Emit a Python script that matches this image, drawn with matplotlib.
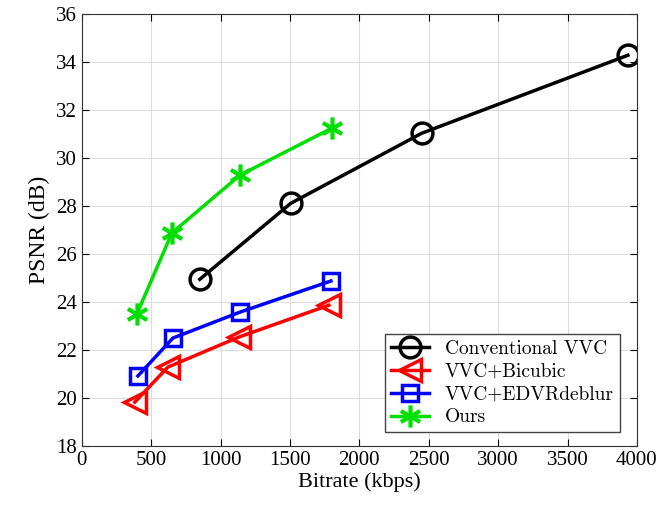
import matplotlib.pyplot as plt
from matplotlib.path import Path
import numpy as np

# bitrate (kbps) and PSNR (dB)
conv_x = [850, 1506, 2450, 3935]
conv_y = [24.95, 28.12, 31.04, 34.29]
bic_x = [382, 620, 1131, 1780]
bic_y = [19.83, 21.29, 22.54, 23.87]
edvr_x = [404, 656, 1139, 1795]
edvr_y = [20.92, 22.5, 23.58, 24.88]
ours_x = [396, 649, 1139, 1802]
ours_y = [23.5, 26.88, 29.29, 31.25]

plt.rcParams['font.family'] = ['Liberation Serif', 'DejaVu Serif']

# matlab style asterisk marker
a = np.deg2rad([90, 30, 150])
verts, codes = [], []
for t in a:
    verts += [(np.cos(t), np.sin(t)), (-np.cos(t), -np.sin(t))]
    codes += [Path.MOVETO, Path.LINETO]
asterisk = Path(verts, codes)

fig = plt.figure(figsize=(6.6, 5.08), dpi=100)
ax = fig.add_axes([0.124, 0.122, 0.841, 0.850])

ax.plot(conv_x, conv_y, '-o', color='black', lw=2.5, ms=15, mfc='none', mew=2.5,
        label='Conventional VVC')
ax.plot(bic_x, bic_y, '-<', color='red', lw=2.5, ms=16, mfc='none', mew=2.5,
        label='VVC+Bicubic')
ax.plot(edvr_x, edvr_y, '-s', color='blue', lw=2.5, ms=12, mfc='none', mew=2.5,
        label='VVC+EDVRdeblur')
ax.plot(ours_x, ours_y, '-', marker=asterisk, color='#00e000', lw=2.5, ms=16, mew=3,
        label='Ours')

ax.set_xlim(0, 4000)
ax.set_ylim(18, 36)
ax.set_xticks(range(0, 4001, 500))
ax.set_yticks(range(18, 37, 2))
ax.tick_params(direction='in', top=True, right=True, labelsize=15, length=5)
ax.grid(True, color='#dddddd', lw=0.8)
ax.set_axisbelow(True)
for s in ax.spines.values():
    s.set_color('#333333')
ax.set_xlabel('Bitrate (kbps)', fontsize=16, labelpad=2)
ax.set_ylabel('PSNR (dB)', fontsize=17, labelpad=4)

leg = ax.legend(loc='lower right', prop={'family': 'cmr10', 'size': 14},
                fancybox=False, edgecolor='#444444', framealpha=1,
                handlelength=2.0, borderpad=0.3, labelspacing=0.25,
                borderaxespad=0, bbox_to_anchor=(0.969, 0.032))

fig.savefig('out.png', dpi=100)
